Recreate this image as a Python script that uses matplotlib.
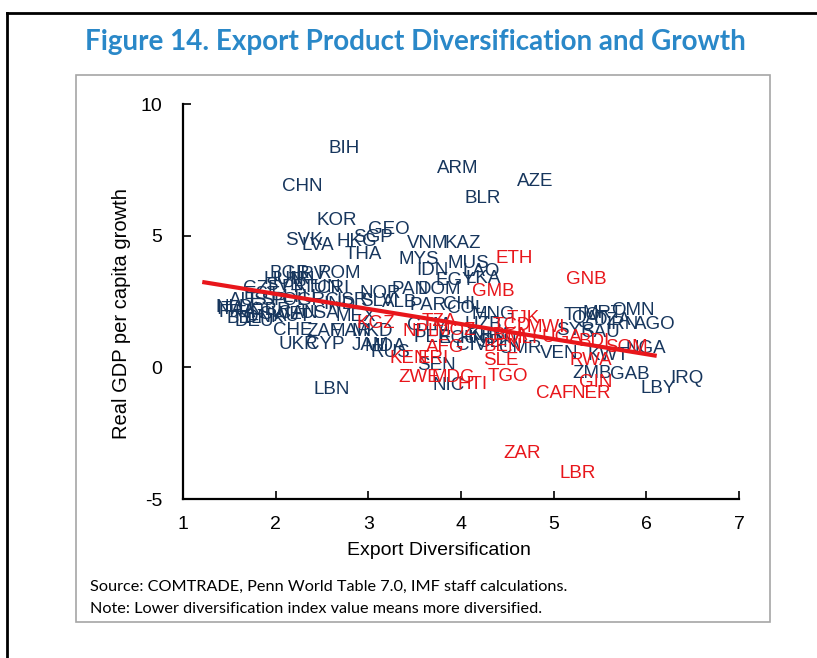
import matplotlib
matplotlib.use("Agg")
import matplotlib.pyplot as plt
from matplotlib.lines import Line2D
from matplotlib.patches import Rectangle

plt.rcParams["axes.unicode_minus"] = False

# navy labels: country code, export diversification index, real GDP per capita growth
navy_codes = ["BIH", "ARM", "AZE", "CHN", "BLR", "KOR", "GEO", "SGP", "SVK", "HKG",
              "LVA", "VNM", "KAZ", "THA", "MYS", "MUS", "IDN", "LAO", "EGY", "LKA",
              "BGR", "HRV", "ROM", "HUN", "IRL", "CZE", "SVN", "PRT", "TUN", "CRI",
              "NOR", "PAN", "DOM", "EST", "LTU", "AUS", "ESP", "POL", "GRC", "IND",
              "ISR", "SLV", "ALB", "PAR", "CHL", "COL", "NLD", "FRA", "FIN", "ITA",
              "BEL", "DEU", "DNK", "GBR", "SWE", "AUT", "CAN", "USA", "MEX", "CHE",
              "ZAF", "MAR", "MKD", "UKR", "CYP", "JAM", "MDA", "RUS", "LBN", "GTM",
              "PER", "ECU", "HND", "MNG", "UZB", "KHM", "SDN", "CIV", "CMR", "SEN",
              "NIC", "TTO", "MRT", "QAT", "OMN", "DZA", "IRN", "AGO", "SAU", "SYR",
              "NGA", "VEN", "KWT", "ZMB", "GAB", "IRQ", "LBY"]
navy_x = [2.74, 3.97, 4.80, 2.29, 4.23, 2.66, 3.22, 3.05, 2.31, 2.88,
          2.46, 3.64, 4.02, 2.95, 3.54, 4.08, 3.69, 4.22, 3.94, 4.24,
          2.15, 2.34, 2.69, 2.09, 2.32, 1.85, 2.09, 2.26, 2.50, 2.62,
          3.13, 3.45, 3.77, 1.85, 2.26, 1.70, 1.92, 2.15, 2.46, 2.69,
          2.82, 3.10, 3.34, 3.64, 4.01, 4.06, 1.55, 1.58, 1.72, 1.51,
          1.66, 1.77, 1.88, 1.94, 2.05, 2.18, 2.24, 2.48, 2.86, 2.18,
          2.52, 2.80, 3.04, 2.24, 2.54, 3.02, 3.18, 3.24, 2.60, 3.64,
          3.69, 3.97, 4.20, 4.35, 4.24, 4.29, 4.39, 4.12, 4.64, 3.73,
          3.87, 5.31, 5.53, 5.39, 5.85, 5.63, 5.74, 6.09, 5.50, 5.23,
          5.99, 5.06, 5.59, 5.41, 5.82, 6.44, 6.13]
navy_y = [8.32, 7.56, 7.06, 6.87, 6.42, 5.58, 5.24, 4.94, 4.82, 4.79,
          4.63, 4.71, 4.71, 4.29, 4.10, 3.95, 3.68, 3.65, 3.30, 3.38,
          3.57, 3.53, 3.57, 3.34, 3.34, 3.00, 3.11, 3.04, 3.04, 3.00,
          2.81, 2.96, 2.96, 2.77, 2.66, 2.54, 2.54, 2.54, 2.54, 2.39,
          2.54, 2.51, 2.47, 2.35, 2.39, 2.24, 2.28, 2.09, 2.05, 2.20,
          1.86, 1.75, 1.90, 2.16, 2.01, 1.94, 2.05, 2.05, 1.94, 1.41,
          1.37, 1.37, 1.37, 0.87, 0.87, 0.84, 0.80, 0.57, -0.84, 1.60,
          1.14, 1.10, 1.10, 2.01, 1.63, 1.22, 0.95, 0.84, 0.72, 0.08,
          -0.68, 1.97, 2.05, 1.86, 2.16, 1.79, 1.63, 1.63, 1.33, 1.41,
          0.72, 0.53, 0.46, -0.23, -0.27, -0.42, -0.80]

# red labels
red_codes = ["ETH", "GNB", "GMB", "KGZ", "NPL", "MOZ", "TZA", "AFG", "KEN", "ERI",
             "BEN", "SLE", "ZWE", "MDG", "TGO", "HTI", "TJK", "TCD", "BFA", "MLI",
             "MWI", "UGA", "BDI", "SOM", "RWA", "GIN", "NER", "CAF", "ZAR", "LBR"]
red_x = [4.57, 5.35, 4.35, 3.08, 3.56, 3.94, 3.77, 3.83, 3.44, 3.70,
         4.45, 4.43, 3.55, 3.92, 4.51, 4.12, 4.67, 4.55, 4.53, 4.66,
         4.91, 5.09, 5.44, 5.78, 5.40, 5.45, 5.41, 5.01, 4.66, 5.26]
red_y = [4.14, 3.34, 2.89, 1.67, 1.37, 1.41, 1.75, 0.76, 0.34, 0.34,
         0.80, 0.27, -0.38, -0.38, -0.34, -0.65, 1.86, 1.60, 1.22, 1.10,
         1.52, 1.14, 0.99, 0.76, 0.27, -0.57, -0.99, -0.99, -3.27, -4.03]

# fitted trend line
fit_x = [1.23, 6.09]
fit_y = [3.23, 0.45]

NAVY = "#17365d"
RED = "#e8161b"
BLUE = "#2a88c8"
ARIAL = "Liberation Sans"

fig = plt.figure(figsize=(8.17, 6.58), dpi=100)
ax = fig.add_axes([0.2240, 0.2416, 0.6805, 0.6003])

for c, x, y in zip(navy_codes, navy_x, navy_y):
    ax.text(x, y, c, ha="center", va="center", color=NAVY, fontsize=13.5,
            family=ARIAL, zorder=2)
ax.plot(fit_x, fit_y, color=RED, lw=3, zorder=3)
for c, x, y in zip(red_codes, red_x, red_y):
    ax.text(x, y, c, ha="center", va="center", color=RED, fontsize=13.5,
            family=ARIAL, zorder=4)

ax.set_xlim(1, 7)
ax.set_ylim(-5, 10)
ax.set_xticks(range(1, 8))
ax.set_yticks([-5, 0, 5, 10])
for s in ["top", "right"]:
    ax.spines[s].set_visible(False)
for s in ["left", "bottom"]:
    ax.spines[s].set_linewidth(1.6)
ax.tick_params(axis="x", direction="in", length=6, width=1.2, pad=12, labelsize=14)
ax.tick_params(axis="y", direction="in", length=6, width=1.2, pad=15, labelsize=14)
for lab in ax.get_xticklabels() + ax.get_yticklabels():
    lab.set_family(ARIAL)

fig.text(0.537, 0.164, "Export Diversification", ha="center", va="center",
         fontsize=14, family=ARIAL)
fig.text(0.149, 0.523, "Real GDP per capita growth", ha="center", va="center",
         rotation=90, fontsize=14.5, family=ARIAL)

fig.text(0.508, 0.936, "Figure 14. Export Product Diversification and Growth",
         ha="center", va="center", fontsize=20, fontweight="bold", color=BLUE,
         family="Lato")
fig.text(0.110, 0.108, "Source: COMTRADE, Penn World Table 7.0, IMF staff calculations.",
         ha="left", va="center", fontsize=11.7, family="Lato")
fig.text(0.110, 0.0745, "Note: Lower diversification index value means more diversified.",
         ha="left", va="center", fontsize=11.7, family="Lato")

# gray panel and outer frame
fig.add_artist(Rectangle((0.093, 0.0547), 0.849, 0.831, transform=fig.transFigure,
                         fill=False, edgecolor="#a6a6a6", lw=1.2))
fig.add_artist(Line2D([0.0086, 0.0086], [0, 0.981], transform=fig.transFigure,
                      color="black", lw=2))
fig.add_artist(Line2D([0.0086, 1], [0.981, 0.981], transform=fig.transFigure,
                      color="black", lw=2))

fig.savefig("out.png", dpi=100)
